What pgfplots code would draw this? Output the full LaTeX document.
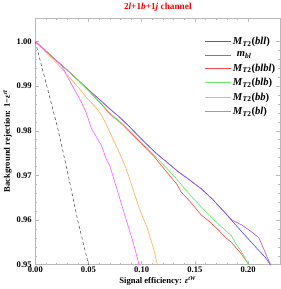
\documentclass[border=0pt]{standalone}
\usepackage{pgfplots}
\pgfplotsset{compat=1.18}
\usepackage{fontspec}
\setmainfont{Liberation Serif}
\definecolor{cblue}{RGB}{80,80,255}
\definecolor{cpurple}{RGB}{165,90,205}
\definecolor{cred}{RGB}{255,75,75}
\definecolor{cgreen}{RGB}{100,235,100}
\definecolor{corange}{RGB}{255,175,80}
\definecolor{cmag}{RGB}{255,90,255}
\definecolor{cframe}{RGB}{185,185,185}
\newcommand{\fs}{\fontsize{8.5}{10}\selectfont\bfseries}
\newcommand{\ft}{\fontsize{9.2}{11}\selectfont\bfseries}
\newcommand{\fl}{\fontsize{10.5}{12}\selectfont\bfseries}
\newcommand{\MT}[1]{\textit{M}\textsubscript{\textit{T}2}(\textit{#1})}
\begin{document}
\begin{tikzpicture}
\begin{axis}[
  width=242bp, height=243.3bp, scale only axis,
  xmin=0, xmax=0.2303, ymin=0.95, ymax=1.0052,
  xtick={0,0.05,0.1,0.15,0.2},
  ytick={0.95,0.96,0.97,0.98,0.99,1.00},
  minor x tick num=4, minor y tick num=4,
  tick align=inside,
  major tick length=4bp, minor tick length=2bp,
  axis line style={cframe, line width=0.6bp},
  every tick/.style={cframe, line width=0.5bp},
  /pgf/number format/.cd, fixed, fixed zerofill, precision=2, assume math mode=true,
  /pgfplots/.cd,
  tick label style={font=\fs},
  xticklabel style={yshift=1bp},
  xlabel={Signal efficiency: \textit{ε}\textsuperscript{\textit{tW}}},
  ylabel={Background rejection: 1−\textit{ε}\textsuperscript{\textit{t}\={\textit{t}}}},
  label style={font=\fs},
  xlabel style={yshift=3bp},
  ylabel style={yshift=-2bp},
  title={2\textit{l}+1\textit{b}+1\textit{j} channel},
  title style={font=\ft, text=red, yshift=-3bp},
  legend style={draw=none, fill=none, font=\fl, at={(rel axis cs:1.0,0.94)}, anchor=north east,
    row sep=1.5bp, /tikz/every even column/.append style={column sep=2bp}},
  legend cell align=left,
  legend image code/.code={\draw[#1] (0bp,0bp) -- (25bp,0bp);},
  every axis plot/.append style={line width=0.6bp},
]
\addplot[cblue] coordinates {(0,1.0000) (0.010,0.9979) (0.020,0.9957) (0.030,0.9936) (0.040,0.9914) (0.050,0.9892) (0.060,0.9871) (0.070,0.9849) (0.080,0.9829) (0.089,0.9808) (0.100,0.9781) (0.113,0.9751) (0.123,0.9731) (0.134,0.9709) (0.145,0.9690) (0.156,0.9670) (0.166,0.9648) (0.175,0.9625) (0.185,0.9598) (0.194,0.9574) (0.202,0.9553) (0.210,0.9532) (0.216,0.9517) (0.221,0.9500) (0.223,0.9494)};
\addlegendentry{\MT{bll}}
\addplot[cpurple] coordinates {(0,1.0000) (0.010,0.9979) (0.020,0.9957) (0.030,0.9936) (0.040,0.9914) (0.050,0.9892) (0.060,0.9871) (0.070,0.9849) (0.080,0.9829) (0.089,0.9808) (0.100,0.9781) (0.113,0.9751) (0.123,0.9731) (0.134,0.9709) (0.145,0.9690) (0.156,0.9670) (0.166,0.9648) (0.175,0.9625) (0.185,0.9600) (0.194,0.9589) (0.203,0.9574) (0.210,0.9561) (0.216,0.9528) (0.221,0.9500) (0.223,0.9494)};
\addlegendentry{\hspace{4bp}\textit{m}\textsubscript{\textit{bl}}}
\addplot[cred] coordinates {(0,1.0000) (0.010,0.9979) (0.020,0.9957) (0.030,0.9936) (0.040,0.9914) (0.050,0.9890) (0.060,0.9865) (0.070,0.9838) (0.080,0.9818) (0.089,0.9797) (0.100,0.9771) (0.111,0.9744) (0.122,0.9712) (0.1335,0.9679) (0.1367,0.9664) (0.146,0.9640) (0.1557,0.9612) (0.164,0.9596) (0.1716,0.9579) (0.178,0.9563) (0.1843,0.9550) (0.1938,0.9524) (0.2002,0.9502) (0.2005,0.9495)};
\addlegendentry{\MT{blbl}}
\addplot[cgreen] coordinates {(0,1.0000) (0.010,0.9979) (0.020,0.9957) (0.030,0.9936) (0.040,0.9914) (0.050,0.9891) (0.060,0.9867) (0.070,0.9840) (0.080,0.9820) (0.089,0.9800) (0.100,0.9774) (0.111,0.9747) (0.122,0.9720) (0.1335,0.9690) (0.1367,0.9681) (0.146,0.9655) (0.1557,0.9630) (0.165,0.9607) (0.1748,0.9585) (0.1843,0.9565) (0.1874,0.9551) (0.194,0.9528) (0.2002,0.9502) (0.2005,0.9495)};
\addlegendentry{\MT{blb}}
\addplot[corange] coordinates {(0,1.0000) (0.010,0.9976) (0.0224,0.9946) (0.035,0.9912) (0.043,0.9890) (0.049,0.9872) (0.056,0.9855) (0.062,0.9836) (0.066,0.9818) (0.070,0.9797) (0.0795,0.9748) (0.0843,0.9722) (0.089,0.9690) (0.0954,0.9643) (0.100,0.9612) (0.105,0.9584) (0.108,0.9560) (0.1112,0.9536) (0.1145,0.9502) (0.115,0.9495)};
\addlegendentry{\MT{bb}}
\addplot[cmag] coordinates {(0,1.0000) (0.010,0.9978) (0.020,0.9957) (0.025,0.9945) (0.030,0.9922) (0.035,0.9900) (0.043,0.9866) (0.048,0.9840) (0.0526,0.9806) (0.057,0.9788) (0.062,0.9768) (0.067,0.9735) (0.070,0.9722) (0.0764,0.9672) (0.0827,0.9622) (0.0859,0.9597) (0.092,0.9550) (0.097,0.9505) (0.0975,0.9495)};
\addlegendentry{\MT{bl}}
\addplot[black!65, dashed, line width=0.6bp, dash pattern=on 3bp off 2.5bp, forget plot] coordinates {(0,1.0) (0.0217,0.98) (0.031,0.97) (0.0398,0.96) (0.0500,0.95) (0.051,0.949)};
\end{axis}
\end{tikzpicture}
\end{document}
